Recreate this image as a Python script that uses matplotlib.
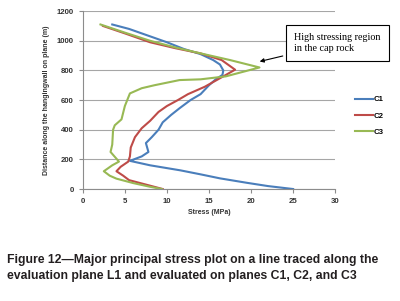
import matplotlib
matplotlib.use("Agg")
from matplotlib import pyplot as plt

plt.rcParams['font.family'] = ['Liberation Sans', 'DejaVu Sans']

# C1 (blue)
c1_stress = [3.5, 5.5, 7.5, 10.0, 12.0, 14.0, 15.5, 16.3, 16.7, 16.6, 15.8, 15.0, 14.0, 12.8,
             11.5, 10.5, 9.5, 9.0, 8.2, 7.5, 7.8, 7.0, 5.6, 8.0, 11.6, 14.0, 16.3, 19.5, 22.0, 25.0]
c1_dist = [1110, 1080, 1040, 990, 945, 910, 870, 840, 800, 770, 740, 700, 640, 600,
           545, 500, 450, 400, 350, 310, 250, 220, 190, 160, 126, 99, 72, 42, 20, 0]

# C2 (red)
c2_stress = [2.4, 5.0, 8.0, 11.0, 14.0, 16.5, 18.1, 16.7, 14.5, 12.5, 11.3, 10.0, 9.0, 8.0,
             7.0, 6.2, 5.7, 5.6, 5.4, 4.5, 4.0, 4.8, 5.5, 7.5, 9.5]
c2_dist = [1100, 1050, 990, 950, 915, 870, 805, 760, 690, 640, 600, 560, 520, 460,
           410, 350, 280, 220, 185, 150, 120, 90, 60, 30, 0]

# C3 (green)
c3_stress = [2.1, 5.0, 8.0, 11.0, 14.0, 17.5, 21.0, 17.0, 14.0, 11.5, 8.5, 7.0, 5.6, 5.0,
             4.6, 3.8, 3.6, 3.5, 3.3, 4.3, 3.5, 2.5, 3.2, 4.0, 6.0, 8.0, 9.4]
c3_dist = [1110, 1055, 1000, 955, 915, 870, 820, 760, 740, 735, 700, 680, 645, 560,
           470, 430, 400, 300, 250, 185, 160, 120, 90, 70, 40, 15, 0]

fig = plt.figure(figsize=(4.0, 3.01), dpi=100)
ax = fig.add_axes([0.207, 0.372, 0.631, 0.591])

ax.plot(c1_stress, c1_dist, color='#4a7ebb', lw=1.5, label='C1')
ax.plot(c2_stress, c2_dist, color='#be4b48', lw=1.5, label='C2')
ax.plot(c3_stress, c3_dist, color='#98b954', lw=1.5, label='C3')

ax.set_xlim(0, 30)
ax.set_ylim(0, 1200)
ax.set_xticks(range(0, 31, 5))
ax.set_yticks(range(0, 1201, 200))
ax.grid(axis='y', color='#a6a6a6', lw=0.8)
ax.set_axisbelow(True)
for s in ['top', 'right']:
    ax.spines[s].set_visible(False)
for s in ['left', 'bottom']:
    ax.spines[s].set_color('#8c8c8c')
ax.tick_params(colors='#8c8c8c', labelcolor='#333333', labelsize=5.6, length=3, width=0.8)
for lab in ax.get_xticklabels() + ax.get_yticklabels():
    lab.set_fontweight('bold')

ax.set_xlabel('Stress (MPa)', fontsize=5.0, fontweight='bold', color='#333333', labelpad=3)
ax.set_ylabel('Distance along the hangingwall on plane (m)', fontsize=5.0,
              fontweight='bold', color='#333333', labelpad=5)

leg = ax.legend(loc='center left', bbox_to_anchor=(1.05, 0.41), frameon=False, fontsize=5.6,
                handlelength=2.4, labelspacing=1.15, handletextpad=0.05)
for t in leg.get_texts():
    t.set_fontweight('bold')

ax.annotate('High stressing region\nin the cap rock', xy=(20.7, 856), xytext=(25.1, 985),
            fontsize=7.3, family='Liberation Serif', va='center', ha='left',
            linespacing=1.25,
            bbox=dict(boxstyle='square,pad=0.8', fc='white', ec='black', lw=0.8),
            arrowprops=dict(arrowstyle='-|>', color='black', lw=0.8, mutation_scale=6))

fig.text(0.018, 0.11, 'Figure 12\u2014Major principal stress plot on a line traced along the\n'
         'evaluation plane L1 and evaluated on planes C1, C2, and C3',
         fontsize=8.8, fontweight='bold', color='#231f20',
         va='center', ha='left', linespacing=1.4)

fig.savefig('out.png', dpi=100)
